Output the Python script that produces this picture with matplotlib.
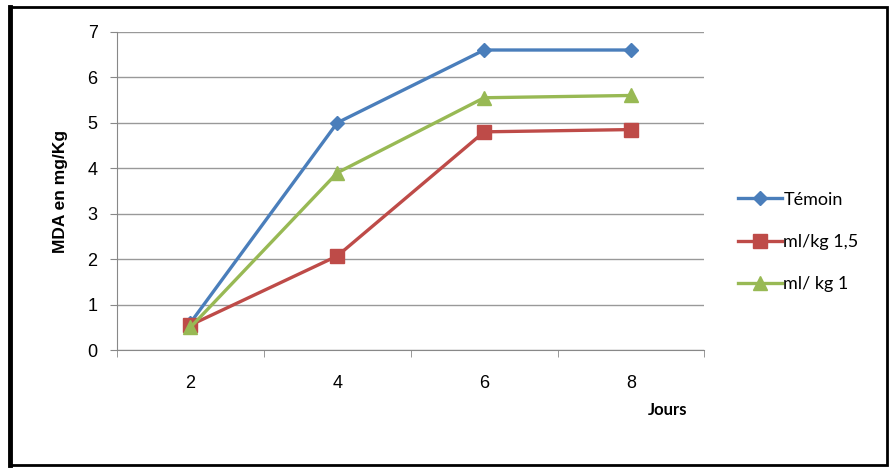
import matplotlib.pyplot as plt
from matplotlib.patches import Rectangle

# données
jours = ['2', '4', '6', '8']
temoin = [0.6, 5.0, 6.6, 6.6]
ml_kg_15 = [0.55, 2.07, 4.8, 4.85]
ml_kg_1 = [0.5, 3.9, 5.55, 5.6]
noms = ['Témoin', 'ml/kg 1,5', 'ml/ kg 1']

fig = plt.figure( figsize=( 8.9, 4.68 ), dpi=100 )
ax = fig.add_axes( [0.1315, 0.252, 0.66, 0.68] )

x = list( range( len( jours ) ) )
ax.plot( x, temoin, color='#4a7ebb', lw=2.4, marker='D', ms=7, label=noms[0] )
ax.plot( x, ml_kg_15, color='#be4b48', lw=2.4, marker='s', ms=10, label=noms[1] )
ax.plot( x, ml_kg_1, color='#98b954', lw=2.4, marker='^', ms=10, label=noms[2] )

ax.set_xlim( -0.5, 3.5 )
ax.set_ylim( 0, 7 )
ax.set_yticks( range( 0, 8 ) )
ax.set_xticks( x )
ax.set_xticklabels( jours )
ax.set_xticks( [i - 0.5 for i in range( 5 )], minor=True )
ax.tick_params( axis='x', which='major', length=0, pad=18, labelsize=13 )
ax.tick_params( axis='x', which='minor', length=5, color='#888888' )
ax.tick_params( axis='y', length=5, color='#888888', labelsize=13, pad=9 )
for lab in ax.get_xticklabels() + ax.get_yticklabels():
    lab.set_family( 'Liberation Sans' )

ax.grid( axis='y', color='#999999', lw=1 )
ax.set_axisbelow( True )
for s in ['top', 'right']:
    ax.spines[s].set_visible( False )
ax.spines['left'].set_color( '#888888' )
ax.spines['bottom'].set_color( '#888888' )

ax.set_ylabel( 'MDA en mg/Kg', fontsize=12.5, fontweight='bold', family='Liberation Sans', labelpad=14 )
fig.text( 0.75, 0.123, 'Jours', fontsize=12, fontweight='bold', family='Lato', ha='center', va='center' )

leg = ax.legend( loc='center left', bbox_to_anchor=( 1.03, 0.34 ), frameon=False,
                 prop={'family': 'Lato', 'size': 13}, handlelength=2.4, labelspacing=1.45,
                 handletextpad=0.1 )

# cadre extérieur
fig.patches.append( Rectangle( ( 0.011, 0.006 ), 0.986, 0.978, transform=fig.transFigure,
                               fill=False, ec='black', lw=2 ) )
fig.add_artist( plt.Line2D( [0.011, 0.011], [0.006, 0.984], transform=fig.transFigure, color='black', lw=3.5 ) )

fig.savefig( 'out.png', dpi=100 )
